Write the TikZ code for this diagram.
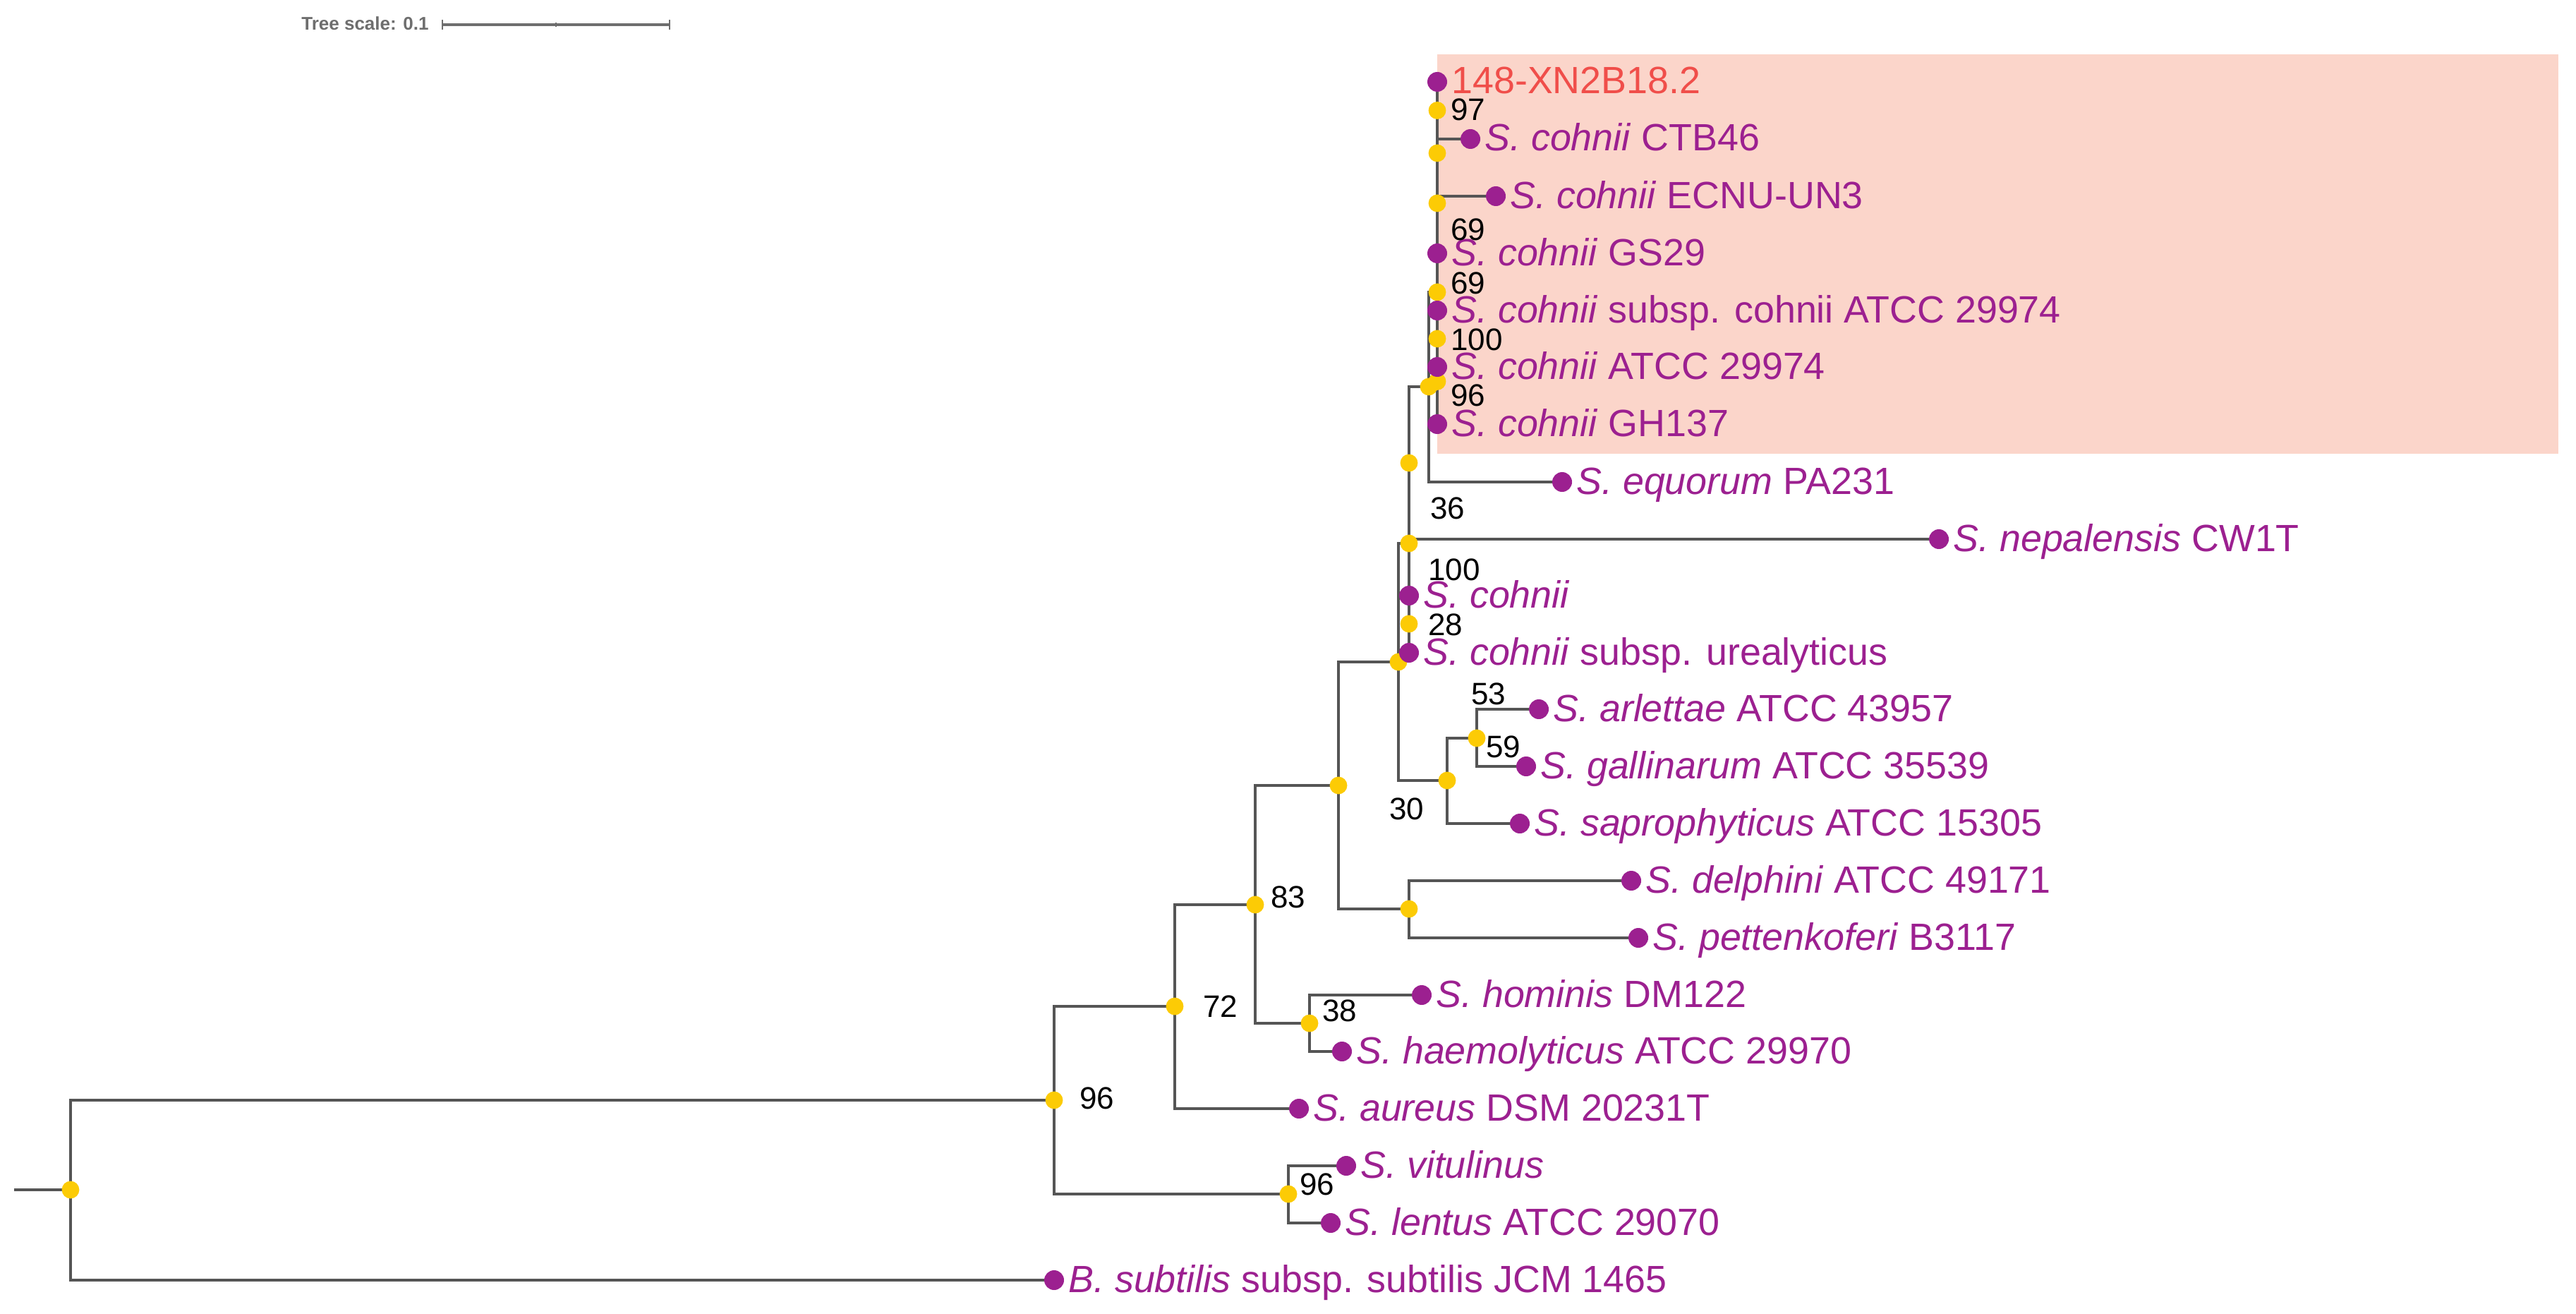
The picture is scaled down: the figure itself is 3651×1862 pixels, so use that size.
\documentclass[tikz,border=0pt]{standalone}
\usepackage{fontspec}
\setmainfont{Liberation Sans}
\definecolor{linegray}{HTML}{555555}
\definecolor{nodeyellow}{HTML}{FCCB05}
\definecolor{leafpurple}{HTML}{9C2090}
\definecolor{hlred}{HTML}{F04E4A}
\definecolor{boxpink}{HTML}{FBD5CA}
\definecolor{scalegray}{HTML}{6E6E6E}
\begin{document}
\begin{tikzpicture}[x=0.5pt,y=-0.5pt,
  br/.style={draw=linegray, line width=2pt, line join=miter},
  ydot/.style={fill=nodeyellow},
  pdot/.style={fill=leafpurple},
  lbl/.style={anchor=base west, inner sep=0pt, text=leafpurple, font=\fontsize{26.9}{30}\selectfont, xshift=10pt, yshift=-8.5pt},
  bs/.style={anchor=west, inner sep=0pt, text=black, font=\fontsize{22}{26}\selectfont},
  scaletxt/.style={anchor=east, inner sep=0pt, text=scalegray, font=\bfseries\fontsize{13}{15}\selectfont}]
\useasboundingbox (0,0) rectangle (3651,1862);
% highlight box
\fill[boxpink] (2037,77) rectangle (3626,643);
% leaves
\coordinate (L1) at (2037,116);
\coordinate (L2) at (2084,197);
\coordinate (L3) at (2120,278);
\coordinate (L4) at (2037,359);
\coordinate (L5) at (2037,440);
\coordinate (L6) at (2037,520);
\coordinate (L7) at (2037,601);
\coordinate (L8) at (2214,683);
\coordinate (L9) at (2748,764);
\coordinate (L10) at (1997,844);
\coordinate (L11) at (1997,925);
\coordinate (L12) at (2181,1005);
\coordinate (L13) at (2163,1086);
\coordinate (L14) at (2154,1167);
\coordinate (L15) at (2312,1248);
\coordinate (L16) at (2322,1329);
\coordinate (L17) at (2015,1410);
\coordinate (L18) at (1902,1490);
\coordinate (L19) at (1841,1571);
\coordinate (L20) at (1908,1652);
\coordinate (L21) at (1886,1733);
\coordinate (L22) at (1494,1814);
% internal nodes
\coordinate (n97) at (2037,156.5);
\coordinate (n2) at (2037,217);
\coordinate (n3) at (2037,288);
\coordinate (n100a) at (2037,480);
\coordinate (n96a) at (2037,540.5);
\coordinate (n69b) at (2037,414);
\coordinate (nE) at (2025,548);
\coordinate (nC) at (1997,656);
\coordinate (nD) at (1997,884);
\coordinate (nB) at (1997,770);
\coordinate (n59) at (2093,1046);
\coordinate (nS) at (2051,1106);
\coordinate (nA) at (1982,938);
\coordinate (nDP) at (1997,1288);
\coordinate (nP1) at (1897,1113);
\coordinate (n38) at (1856,1450);
\coordinate (n83) at (1779,1282);
\coordinate (n72) at (1665,1426);
\coordinate (nV) at (1826,1692);
\coordinate (n96) at (1494,1559);
\coordinate (root) at (100,1686);
\coordinate (stub) at (20,1686);
% branches
\draw[br] (stub) -- (root);
\draw[br] (root) |- (n96);
\draw[br] (root) |- (L22);
\draw[br] (n96) |- (n72);
\draw[br] (n96) |- (nV);
\draw[br] (nV) |- (L20);
\draw[br] (nV) |- (L21);
\draw[br] (n72) |- (n83);
\draw[br] (n72) |- (L19);
\draw[br] (n83) |- (nP1);
\draw[br] (n83) |- (n38);
\draw[br] (n38) |- (L17);
\draw[br] (n38) |- (L18);
\draw[br] (nP1) |- (nA);
\draw[br] (nP1) |- (nDP);
\draw[br] (nDP) |- (L15);
\draw[br] (nDP) |- (L16);
\draw[br] (nA) |- (nB);
\draw[br] (nA) |- (nS);
\draw[br] (nS) |- (n59);
\draw[br] (nS) |- (L14);
\draw[br] (n59) |- (L12);
\draw[br] (n59) |- (L13);
\draw[br] (nB) |- (nC);
\draw[br] (nB) |- (nD);
\draw[br] (nD) |- (L10);
\draw[br] (nD) |- (L11);
\draw[br] (nC) |- (nE);
\draw[br] (nC) |- (L9);
\draw[br] (nE) |- (n69b);
\draw[br] (nE) |- (L8);
\draw[br] (n69b) |- (n3);
\draw[br] (n69b) |- (n96a);
\draw[br] (n96a) |- (n100a);
\draw[br] (n96a) |- (L7);
\draw[br] (n100a) |- (L5);
\draw[br] (n100a) |- (L6);
\draw[br] (n3) |- (n2);
\draw[br] (n3) |- (L4);
\draw[br] (n2) |- (n97);
\draw[br] (n2) |- (L3);
\draw[br] (n97) |- (L1);
\draw[br] (n97) |- (L2);
% internal node dots
\foreach \n in {root,n96,nV,n72,n83,n38,nP1,nDP,nA,nS,n59,nB,nD,nC,nE,n69b,n96a,n100a,n3,n2,n97}
  \fill[ydot] (\n) circle[radius=6.2pt];
% leaf dots
\foreach \n in {L1,L2,L3,L4,L5,L6,L7,L8,L9,L10,L11,L12,L13,L14,L15,L16,L17,L18,L19,L20,L21,L22}
  \fill[pdot] (\n) circle[radius=7pt];
% leaf labels
\node[lbl, text=hlred] (t1) at (L1) {148-XN2B18.2};
\node[lbl] (t2) at (L2) {\textit{S. cohnii} CTB46};
\node[lbl] (t3) at (L3) {\textit{S. cohnii} ECNU-UN3};
\node[lbl] (t4) at (L4) {\textit{S. cohnii} GS29};
\node[lbl] (t5) at (L5) {\textit{S. cohnii} subsp. cohnii ATCC 29974};
\node[lbl] (t6) at (L6) {\textit{S. cohnii} ATCC 29974};
\node[lbl] (t7) at (L7) {\textit{S. cohnii} GH137};
\node[lbl] (t8) at (L8) {\textit{S. equorum} PA231};
\node[lbl] (t9) at (L9) {\textit{S. nepalensis} CW1T};
\node[lbl] (t10) at (L10) {\textit{S. cohnii}};
\node[lbl] (t11) at (L11) {\textit{S. cohnii} subsp. urealyticus};
\node[lbl] (t12) at (L12) {\textit{S. arlettae} ATCC 43957};
\node[lbl] (t13) at (L13) {\textit{S. gallinarum} ATCC 35539};
\node[lbl] (t14) at (L14) {\textit{S. saprophyticus} ATCC 15305};
\node[lbl] (t15) at (L15) {\textit{S. delphini} ATCC 49171};
\node[lbl] (t16) at (L16) {\textit{S. pettenkoferi} B3117};
\node[lbl] (t17) at (L17) {\textit{S. hominis} DM122};
\node[lbl] (t18) at (L18) {\textit{S. haemolyticus} ATCC 29970};
\node[lbl] (t19) at (L19) {\textit{S. aureus} DSM 20231T};
\node[lbl] (t20) at (L20) {\textit{S. vitulinus}};
\node[lbl] (t21) at (L21) {\textit{S. lentus} ATCC 29070};
\node[lbl] (t22) at (L22) {\textit{B. subtilis} subsp. subtilis JCM 1465};
% bootstrap values
\node[bs] (b97) at (2056,155) {97};
\node[bs] (b69a) at (2056,325) {69};
\node[bs] (b69b) at (2056,401) {69};
\node[bs] (b100a) at (2056,481) {100};
\node[bs] (b96a) at (2056,560) {96};
\node[bs] (b36) at (2027,720) {36};
\node[bs] (b100b) at (2024,807) {100};
\node[bs] (b28) at (2024,885) {28};
\node[bs] (b53) at (2085,983) {53};
\node[bs] (b59) at (2106,1058) {59};
\node[bs] (b30) at (1969,1146) {30};
\node[bs] (b83) at (1801,1271) {83};
\node[bs] (b72) at (1705,1426) {72};
\node[bs] (b38) at (1874,1432) {38};
\node[bs] (b96) at (1530,1556) {96};
\node[bs] (b96v) at (1842,1678) {96};
% tree scale
\node[scaletxt] (st) at (608,33) {Tree scale: 0.1};
\coordinate (sb1) at (627,35);
\coordinate (sbm) at (788,35);
\coordinate (sb2) at (949,35);
\draw[draw=scalegray, line width=2pt] (sb1) -- (sb2);
\draw[draw=scalegray, line width=1pt] ([yshift=3.5pt]sb1) -- ([yshift=-3.5pt]sb1);
\draw[draw=scalegray, line width=1pt] ([yshift=3.5pt]sb2) -- ([yshift=-3.5pt]sb2);
\draw[draw=scalegray, line width=0.8pt] ([yshift=1.5pt]sbm) -- ([yshift=-1.5pt]sbm);
\end{tikzpicture}
\end{document}
